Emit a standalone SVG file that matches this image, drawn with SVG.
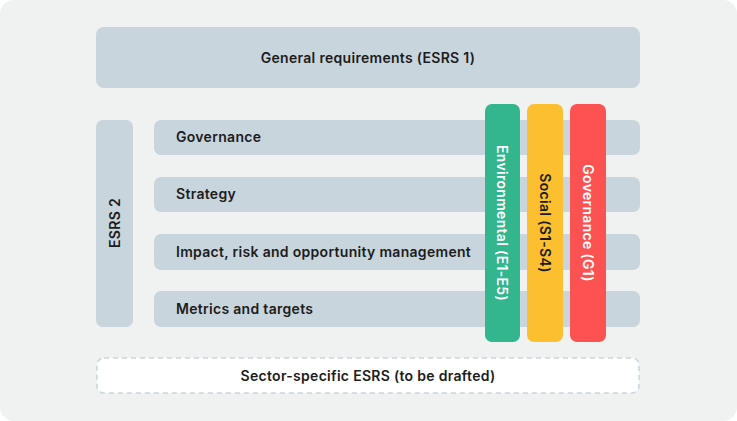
<svg xmlns="http://www.w3.org/2000/svg" width="737" height="421" viewBox="0 0 737 421">
<style>
.bar{fill:#c9d5dc}
.t{font-family:"Inter","Liberation Sans",sans-serif;font-size:14px;font-weight:600;letter-spacing:0.3px;fill:#1c1c1c}
.w{fill:#ffffff}
</style>
<rect x="0" y="0" width="737" height="421" rx="14" fill="#f0f1f1"/>
<g id="general"><rect class="bar" x="96" y="27" width="544" height="61" rx="8"/><text class="t" x="368" y="63" text-anchor="middle">General requirements (ESRS 1)</text></g>
<g id="esrs2"><rect class="bar" x="96" y="120" width="37" height="207" rx="7"/><text class="t" transform="translate(120,223) rotate(-90)" text-anchor="middle">ESRS 2</text></g>
<g id="governance"><rect class="bar" x="154" y="120" width="486" height="35" rx="7"/><text class="t" x="176" y="142">Governance</text></g>
<g id="strategy"><rect class="bar" x="154" y="177" width="486" height="35" rx="7"/><text class="t" x="176" y="199">Strategy</text></g>
<g id="impact"><rect class="bar" x="154" y="234" width="486" height="36" rx="7"/><text class="t" x="176" y="257">Impact, risk and opportunity management</text></g>
<g id="metrics"><rect class="bar" x="154" y="291" width="486" height="36" rx="7"/><text class="t" x="176" y="314">Metrics and targets</text></g>
<g id="environmental"><rect x="485" y="104" width="35" height="238" rx="7" fill="#33b58d"/><text class="t w" transform="translate(497,223) rotate(90)" text-anchor="middle">Environmental (E1-E5)</text></g>
<g id="social"><rect x="527" y="104" width="36" height="238" rx="7" fill="#fbbf2f"/><text class="t" transform="translate(540,223) rotate(90)" text-anchor="middle">Social (S1-S4)</text></g>
<g id="governance-g1"><rect x="570" y="104" width="36" height="238" rx="7" fill="#fd5252"/><text class="t w" transform="translate(583,223) rotate(90)" text-anchor="middle">Governance (G1)</text></g>
<g id="sector"><rect x="97" y="358" width="542" height="35" rx="7" fill="#ffffff" stroke="#c9d5dc" stroke-width="1.5" stroke-dasharray="5 4"/><text class="t" x="368" y="381" text-anchor="middle">Sector-specific ESRS (to be drafted)</text></g>
<g id="connectors"/>
</svg>
